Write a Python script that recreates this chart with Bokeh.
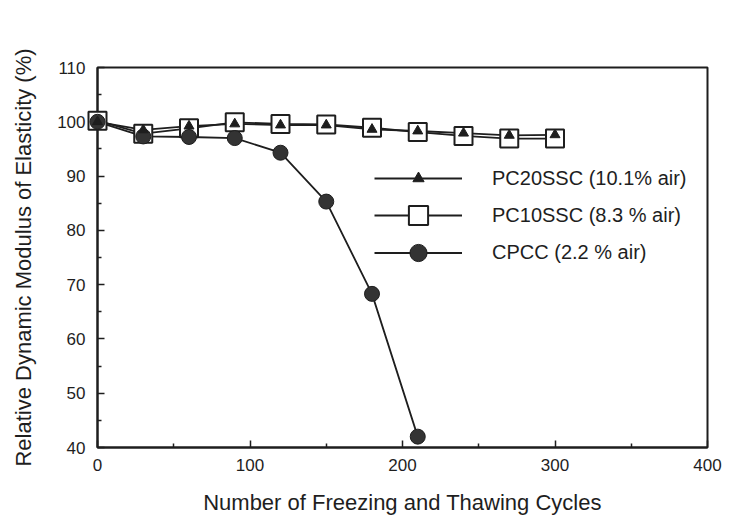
from bokeh.plotting import figure
from bokeh.models import Range1d, Legend, LegendItem, FixedTicker
from bokeh.embed import file_html
from bokeh.resources import INLINE

cycles = [0, 30, 60, 90, 120, 150, 180, 210, 240, 270, 300]
pc20ssc = [100.0, 98.5, 99.2, 99.6, 99.4, 99.4, 98.6, 98.3, 97.9, 97.5, 97.6]
pc10ssc = [100.2, 97.8, 98.8, 99.9, 99.6, 99.5, 98.9, 98.1, 97.4, 96.9, 96.9]
cpcc_cycles = [0, 30, 60, 90, 120, 150, 180, 210]
cpcc = [100.0, 97.3, 97.2, 97.0, 94.3, 85.3, 68.3, 42.0]

x_ticks = [0, 100, 200, 300, 400]
y_ticks = [40, 50, 60, 70, 80, 90, 100, 110]

labels = ["PC20SSC (10.1% air)", "PC10SSC (8.3 % air)", "CPCC (2.2 % air)"]

FONT = "Liberation Sans"
INK = "#1e1e1e"

p = figure(width=737, height=523, output_backend="svg", toolbar_location=None,
           x_range=Range1d(0, 400), y_range=Range1d(40, 110),
           min_border_left=97, min_border_right=30, min_border_top=67, min_border_bottom=76)
p.background_fill_color = "white"
p.border_fill_color = "white"
p.grid.visible = False
p.outline_line_color = INK
p.outline_line_width = 2

for ax in (p.xaxis[0], p.yaxis[0]):
    ax.axis_line_color = INK
    ax.axis_line_width = 2
    ax.major_tick_in = 7
    ax.major_tick_out = 0
    ax.minor_tick_in = 4
    ax.minor_tick_out = 0
    ax.major_tick_line_color = INK
    ax.minor_tick_line_color = INK
    ax.major_tick_line_width = 1.5
    ax.minor_tick_line_width = 1.5
    ax.major_label_text_font = FONT
    ax.major_label_text_font_size = "17px"
    ax.major_label_text_color = INK
    ax.axis_label_text_font = FONT
    ax.axis_label_text_font_size = "22px"
    ax.axis_label_text_font_style = "normal"
    ax.axis_label_text_color = INK

p.xaxis[0].ticker = FixedTicker(ticks=x_ticks, minor_ticks=[50, 150, 250, 350])
p.yaxis[0].ticker = FixedTicker(ticks=y_ticks, minor_ticks=[45, 55, 65, 75, 85, 95, 105])
p.xaxis.axis_label = "Number of Freezing and Thawing Cycles"
p.yaxis.axis_label = "Relative Dynamic Modulus of Elasticity (%)"
p.xaxis.major_label_standoff = 11
p.xaxis.axis_label_standoff = 16
p.yaxis.major_label_standoff = 12
p.yaxis.axis_label_standoff = 18

l10 = p.line(cycles, pc10ssc, line_color=INK, line_width=1.8)
l20 = p.line(cycles, pc20ssc, line_color=INK, line_width=1.8)
lc = p.line(cpcc_cycles, cpcc, line_color=INK, line_width=1.8)

s10 = p.scatter(cycles, pc10ssc, marker="square", size=18, fill_color="white",
                line_color=INK, line_width=2, level="overlay")
sc = p.scatter(cpcc_cycles, cpcc, marker="circle", size=15, fill_color="#333333",
               line_color=INK, line_width=1, level="overlay")
s20 = p.scatter(cycles, pc20ssc, marker="triangle", size=10, fill_color=INK,
                line_color=INK, line_width=1, level="overlay")


def make_legend(label, rends, gh, center_from_top):
    bottom = 380 - (center_from_top + gh / 2.0)
    lg = Legend(items=[LegendItem(label=label, renderers=rends)],
                location=(277, bottom), padding=0, margin=0,
                glyph_width=88, glyph_height=gh, label_standoff=30,
                label_text_font=FONT, label_text_font_size="20px",
                label_text_color=INK, border_line_color=None,
                background_fill_alpha=0, label_height=gh)
    p.add_layout(lg, "center")

make_legend(labels[0], [l20, s20], 28, 111)
make_legend(labels[1], [l10, s10], 48, 148)
make_legend(labels[2], [lc, sc], 43, 185)

open("out.html", "w").write(file_html(p, INLINE))
